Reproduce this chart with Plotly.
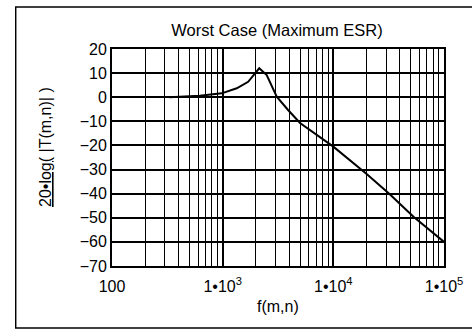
import plotly.graph_objects as go

freq_hz = [330, 620, 980, 1340, 1700, 2140, 2500, 3080, 3900, 5000, 10000, 20000, 32000, 53000, 100000]
gain_db = [0, 0.6, 1.6, 3.7, 6.4, 12, 9.2, 0.2, -5.3, -10.7, -20.5, -31.8, -40, -49.6, -60]

x_tick_vals = [100, 1000, 10000, 100000]
x_tick_text = ["100", "1•10<sup>3</sup>", "1•10<sup>4</sup>", "1•10<sup>5</sup>"]
y_tick_vals = [20, 10, 0, -10, -20, -30, -40, -50, -60, -70]
y_tick_text = ["20", "10", "0", "−10", "−20", "−30", "−40", "−50", "−60", "−70"]

minor_vals = [m * 10 ** d for d in (2, 3, 4) for m in range(2, 10)]

FONT = "Liberation Sans, Arial, sans-serif"
W, H = 472, 331
# paper area = the outer frame box
FL, FT, FB = 15, 6, 329
PW, PH = W - FL, FB - FT


def px(x):
    return (x - FL) / PW


def py(y):
    return (FB - y) / PH


# plot area in pixels
PL, PR, PT, PB = 112, 444, 49, 266

fig = go.Figure()
fig.add_trace(go.Scatter(x=freq_hz, y=gain_db, mode="lines",
                         line=dict(color="black", width=2), showlegend=False))

# outer frame drawn on a hidden full-paper axis pair (right edge is outside the picture)
fig.add_trace(go.Scatter(x=[1.0, 0.0015, 0.0015, 1.0], y=[0.997, 0.997, 0.003, 0.003],
                         xaxis="x2", yaxis="y2", mode="lines", cliponaxis=False,
                         line=dict(color="black", width=1.5), hoverinfo="skip", showlegend=False))

fig.update_layout(
    width=W, height=H,
    margin=dict(l=FL, r=0, t=FT, b=H - FB, autoexpand=False),
    paper_bgcolor="white", plot_bgcolor="rgba(0,0,0,0)",
    font=dict(family=FONT, size=16, color="black"),
    title=dict(text="Worst Case (Maximum ESR)", xref="container", x=277 / W, xanchor="center",
               y=1 - 30 / H, yanchor="middle", font=dict(size=16.5)),
    xaxis=dict(
        domain=[px(PL), px(PR)],
        type="log", range=[2, 5],
        tickvals=x_tick_vals, ticktext=x_tick_text,
        ticks="outside", ticklen=5, tickcolor="rgba(0,0,0,0)",
        showgrid=True, gridcolor="black", gridwidth=1.5,
        minor=dict(tickvals=minor_vals, showgrid=True, gridcolor="black", gridwidth=1.2, ticks=""),
        showline=True, linecolor="black", linewidth=2, mirror=True,
        zeroline=False,
    ),
    yaxis=dict(
        domain=[py(PB), py(PT)],
        range=[-70, 20],
        tickvals=y_tick_vals, ticktext=y_tick_text,
        ticks="", ticklabelstandoff=0,
        showgrid=True, gridcolor="black", gridwidth=1.5,
        showline=True, linecolor="black", linewidth=2, mirror=True,
        zeroline=False,
    ),
    xaxis2=dict(domain=[0, 1], range=[0, 1], anchor="y2", visible=False, fixedrange=True),
    yaxis2=dict(domain=[0, 1], range=[0, 1], anchor="x2", visible=False, fixedrange=True),
)

# y-axis title
fig.add_annotation(
    text='<span style="text-decoration:underline">20•log(</span> |T(m,n)| )',
    xref="paper", yref="paper",
    x=px(45), y=py(147),
    xanchor="center", yanchor="middle",
    textangle=-90, showarrow=False, font=dict(size=16),
)
# x-axis title
fig.add_annotation(
    text="f(m,n)", xref="paper", yref="paper",
    x=px(278), y=py(306),
    xanchor="center", yanchor="middle", showarrow=False, font=dict(size=16),
)

fig.write_html("out.html", config={"displayModeBar": False},
               post_script="document.body.style.margin='0';")
